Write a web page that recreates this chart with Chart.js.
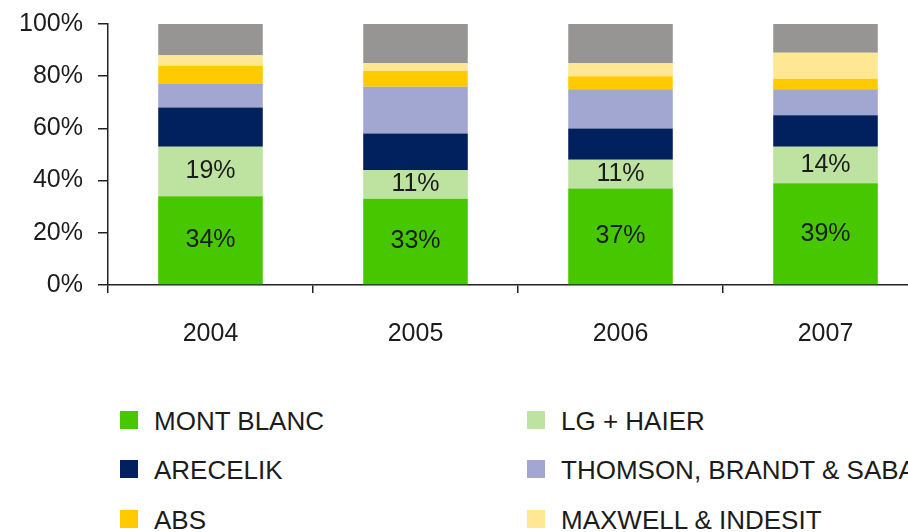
<!DOCTYPE html>
<html>
<head>
<meta charset="utf-8">
<script src="https://cdn.jsdelivr.net/npm/chart.js@4"></script>
<style>
  html, body { margin: 0; padding: 0; background: #fff; }
  body { width: 908px; height: 532px; overflow: hidden; position: relative; font-family: "Liberation Sans", Arial, sans-serif; }
  #wrap { position: absolute; left: 0; top: -6px; width: 940px; height: 366px; }
  .leg { position: absolute; font-size: 26px; color: #1c1c1c; white-space: nowrap; line-height: 26px; }
  .leg span { position: absolute; left: 0; top: 3px; width: 18px; height: 18px; }
  .leg b { font-weight: normal; position: absolute; left: 34px; top: 0; }
</style>
</head>
<body>
<div id="wrap"><canvas id="share_chart"></canvas></div>
<div id="legend"></div>
<script>
// categories + series (share of market, %)
const years = ['2004', '2005', '2006', '2007'];
const montBlanc = [34, 33, 37, 39];
const lgHaier = [19, 11, 11, 14];
const arcelik = [15, 14, 12, 12];
const thomson = [9, 18, 15, 10];
const abs = [7, 6, 5, 4];
const maxwell = [4, 3, 5, 10];
const others = [12, 15, 15, 11];
const yTicks = [0, 20, 40, 60, 80, 100];

const names = ['MONT BLANC', 'LG + HAIER', 'ARECELIK', 'THOMSON, BRANDT & SABA', 'ABS', 'MAXWELL & INDESIT', 'OTHERS'];
const colors = ['#47c700', '#bee3a0', '#00205e', '#a1a7d0', '#ffcb00', '#ffe794', '#979594'];
const series = [montBlanc, lgHaier, arcelik, thomson, abs, maxwell, others];

const datasets = series.map((vals, i) => ({
  label: names[i],
  data: vals,
  backgroundColor: colors[i],
  borderWidth: 0
}));

const font = '"Liberation Sans", Arial, sans-serif';

// labels inside the first two segments
const segLabels = {
  id: 'segLabels',
  afterDatasetsDraw(chart) {
    const ctx = chart.ctx;
    ctx.save();
    ctx.font = '25px ' + font;
    ctx.fillStyle = '#1c1c1c';
    ctx.textAlign = 'center';
    ctx.textBaseline = 'middle';
    [0, 1].forEach(di => {
      chart.getDatasetMeta(di).data.forEach((el, j) => {
        ctx.fillText(chart.data.datasets[di].data[j] + '%', el.x, (el.y + el.base) / 2);
      });
    });
    ctx.restore();
  }
};

const config = {
  type: 'bar',
  data: { labels: years, datasets },
  options: {
    responsive: true,
    maintainAspectRatio: false,
    animation: false,
    layout: { padding: { top: 18, right: 12, left: 0, bottom: 0 } },
    plugins: { legend: { display: false }, tooltip: { enabled: false } },
    datasets: { bar: { categoryPercentage: 1, barPercentage: 0.51 } },
    scales: {
      x: {
        stacked: true,
        offset: true,
        grid: { offset: true, drawOnChartArea: false, tickLength: 8, color: '#222', lineWidth: 1.5 },
        border: { color: '#222', width: 1.5 },
        ticks: { color: '#1c1c1c', padding: 26, font: { size: 25, family: font } },
        afterFit: s => { s.height = 75; }
      },
      y: {
        stacked: true,
        min: 0,
        max: 100,
        afterBuildTicks: s => { s.ticks = yTicks.map(v => ({ value: v })); },
        grid: { drawOnChartArea: false, tickLength: 10, color: '#222', lineWidth: 1.5 },
        border: { color: '#222', width: 1.5 },
        ticks: {
          color: '#1c1c1c',
          padding: 15,
          font: { size: 25, family: font },
          callback: v => v + '%'
        },
        afterFit: s => { s.width = 108; }
      }
    }
  },
  plugins: [segLabels]
};

const share_chart = new Chart(document.getElementById('share_chart'), config);

// two-column legend, OTHERS not listed
const legPos = [[120, 408], [527, 408], [120, 457], [527, 457], [120, 507], [527, 507]];
const legend = document.getElementById('legend');
legPos.forEach((p, i) => {
  const d = document.createElement('div');
  d.className = 'leg';
  d.style.left = p[0] + 'px';
  d.style.top = p[1] + 'px';
  d.innerHTML = '<span style="background:' + colors[i] + '"></span><b>' + names[i] + '</b>';
  legend.appendChild(d);
});
</script>
</body>
</html>
